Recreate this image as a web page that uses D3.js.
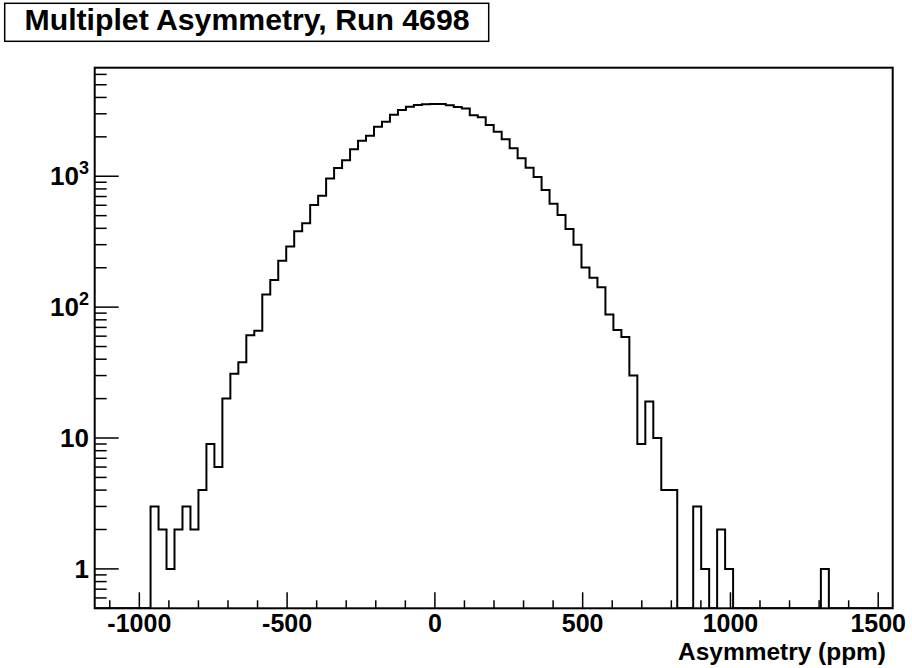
<!DOCTYPE html>
<html>
<head>
<meta charset="utf-8">
<script src="https://cdn.jsdelivr.net/npm/d3@7"></script>
<style>
  html, body { margin: 0; padding: 0; background: #fff; }
  svg { display: block; }
  text { font-family: "Liberation Sans", Arial, Helvetica, sans-serif; font-weight: bold; fill: #000; }
</style>
</head>
<body>
<svg id="chart" width="912" height="668"></svg>
<script>
// ---- data ----
const titleText = "Multiplet Asymmetry, Run 4698";
const xAxisTitle = "Asymmetry (ppm)";
const xRange = [-1151, 1549];           // histogram range, 100 bins
const counts = [
  0, 0, 0, 0, 0, 0, 0, 3, 2, 1,
  2, 3, 2, 4, 9, 6, 20, 31, 38, 61,
  66, 125, 161, 226, 290, 380, 438, 604, 711, 959,
  1157, 1325, 1607, 1870, 2042, 2392, 2611, 2952, 3208, 3398,
  3500, 3548, 3565, 3565, 3483, 3381, 3294, 2922, 2820, 2464,
  2190, 1916, 1636, 1372, 1163, 988, 786, 617, 505, 395,
  300, 201, 168, 142, 88, 67, 59, 30, 9, 19,
  10, 4, 4, 0, 0, 3, 1, 0, 2, 1,
  0, 0, 0, 0, 0, 0, 0, 0, 0, 0,
  0, 1, 0, 0, 0, 0, 0, 0, 0, 0
];
const yRange = [0.5, 6750];
const xMajorTicks = [-1000, -500, 0, 500, 1000, 1500];
const xMinorTicks = [-1100, -900, -800, -700, -600, -400, -300, -200, -100,
                     100, 200, 300, 400, 600, 700, 800, 900, 1100, 1200, 1300, 1400];
const yMajorTicks = [1, 10, 100, 1000];
const yTickLabels = [["1", ""], ["10", ""], ["10", "2"], ["10", "3"]];
const yMinorTicks = [0.6, 0.7, 0.8, 0.9, 2, 3, 4, 5, 6, 7, 8, 9,
                     20, 30, 40, 50, 60, 70, 80, 90, 200, 300, 400, 500, 600, 700, 800, 900,
                     2000, 3000, 4000, 5000, 6000];

// ---- layout ----
const frame = { left: 94.7, right: 892.7, top: 67.7, bottom: 608.3 };
const svg = d3.select("#chart");
svg.append("rect").attr("width", 912).attr("height", 668).attr("fill", "#fff");

const x = d3.scaleLinear().domain(xRange).range([frame.left, frame.right]);
const y = d3.scaleLog().domain(yRange).range([frame.bottom, frame.top]);

// clip
svg.append("clipPath").attr("id", "clip").append("rect")
  .attr("x", frame.left).attr("y", frame.top)
  .attr("width", frame.right - frame.left).attr("height", frame.bottom - frame.top);

// histogram step path
const nb = counts.length;
const bw = (xRange[1] - xRange[0]) / nb;
const pts = [[x(xRange[0]), y(yRange[0])]];
counts.forEach((c, i) => {
  const v = c > 0 ? c : yRange[0];
  pts.push([x(xRange[0] + i * bw), y(v)]);
  pts.push([x(xRange[0] + (i + 1) * bw), y(v)]);
});
pts.push([x(xRange[1]), y(yRange[0])]);
svg.append("path")
  .attr("clip-path", "url(#clip)")
  .attr("d", d3.line()(pts))
  .attr("fill", "none").attr("stroke", "#000").attr("stroke-width", 2)
  .attr("stroke-linejoin", "miter");

// x ticks
const gx = svg.append("g");
gx.selectAll("line.maj").data(xMajorTicks).join("line")
  .attr("x1", d => x(d)).attr("x2", d => x(d))
  .attr("y1", frame.bottom).attr("y2", frame.bottom - 16)
  .attr("stroke", "#000").attr("stroke-width", 1.5);
gx.selectAll("line.min").data(xMinorTicks).join("line")
  .attr("x1", d => x(d)).attr("x2", d => x(d))
  .attr("y1", frame.bottom).attr("y2", frame.bottom - 8)
  .attr("stroke", "#000").attr("stroke-width", 1.5);
gx.selectAll("text").data(xMajorTicks).join("text")
  .attr("x", d => x(d)).attr("y", 632)
  .attr("text-anchor", "middle").attr("font-size", 25)
  .text(d => d);

// y ticks
const gy = svg.append("g");
gy.selectAll("line.maj").data(yMajorTicks).join("line")
  .attr("x1", frame.left).attr("x2", frame.left + 24)
  .attr("y1", d => y(d)).attr("y2", d => y(d))
  .attr("stroke", "#000").attr("stroke-width", 1.5);
gy.selectAll("line.min").data(yMinorTicks).join("line")
  .attr("x1", frame.left).attr("x2", frame.left + 12)
  .attr("y1", d => y(d)).attr("y2", d => y(d))
  .attr("stroke", "#000").attr("stroke-width", 1.5);
const yl = gy.selectAll("text").data(yMajorTicks).join("text")
  .attr("x", 89).attr("y", d => y(d) + 9)
  .attr("text-anchor", "end").attr("font-size", 26);
yl.append("tspan").text((d, i) => yTickLabels[i][0]);
yl.append("tspan").attr("font-size", 18).attr("dy", -11)
  .text((d, i) => yTickLabels[i][1]);

// frame
svg.append("rect")
  .attr("x", frame.left).attr("y", frame.top)
  .attr("width", frame.right - frame.left).attr("height", frame.bottom - frame.top)
  .attr("fill", "none").attr("stroke", "#000").attr("stroke-width", 2);

// axis title
svg.append("text").attr("x", 886).attr("y", 660)
  .attr("text-anchor", "end").attr("font-size", 24)
  .attr("textLength", 208).attr("lengthAdjust", "spacingAndGlyphs")
  .text(xAxisTitle);

// title box
svg.append("rect").attr("x", 4.7).attr("y", 3.3).attr("width", 484).attr("height", 38)
  .attr("fill", "#fff").attr("stroke", "#000").attr("stroke-width", 1.5);
svg.append("text").attr("x", 247).attr("y", 30)
  .attr("text-anchor", "middle").attr("font-size", 29)
  .attr("textLength", 445).attr("lengthAdjust", "spacingAndGlyphs")
  .text(titleText);
</script>
</body>
</html>
